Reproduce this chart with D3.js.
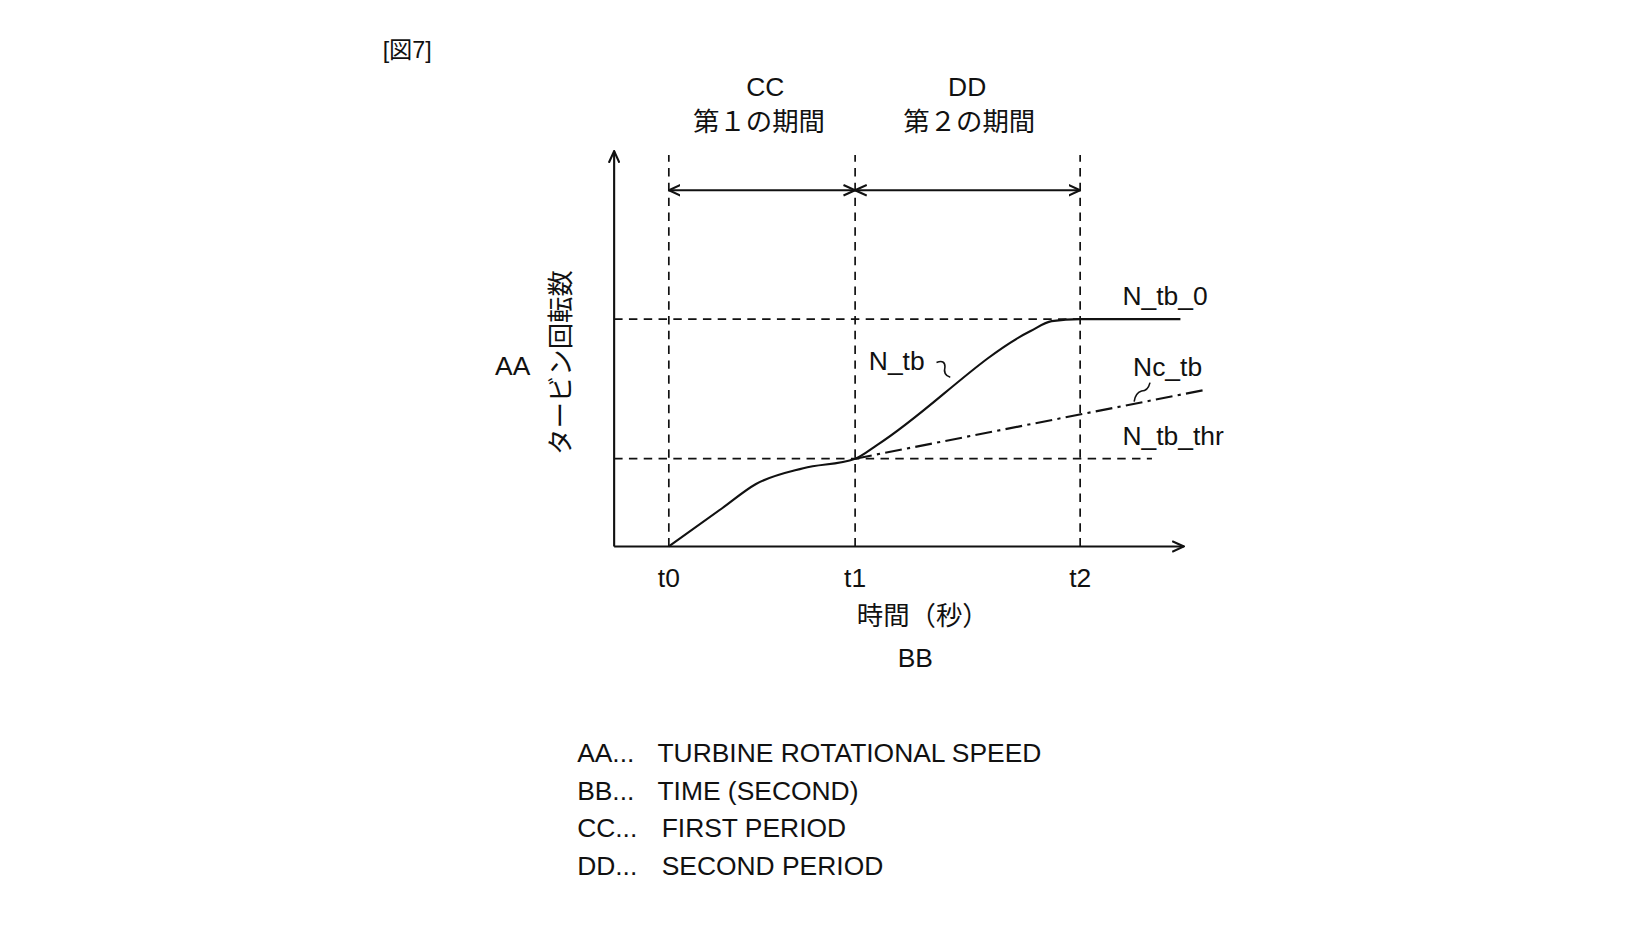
<!DOCTYPE html>
<html><head><meta charset="utf-8">
<script src="https://cdn.jsdelivr.net/npm/d3@7"></script>
<style>body{margin:0;background:#fff}text{font-family:"Liberation Sans","Noto Sans CJK JP",sans-serif;fill:#111}</style>
</head><body>
<script>
// time (0-100) vs turbine speed (0-100)
var periodTicks = [["t0", 9.6], ["t1", 42.3], ["t2", 81.8]];
var nTb0 = 57.5, nTbThr = 22.2;
var nTbTime = [9.6, 18.9, 24.9, 33.2, 42.3, 46.2, 73.1, 76.8, 81.8, 99.4];
var nTbSpeed = [0, 9.6, 15.8, 19.8, 22.2, 25.7, 54.5, 57, 57.5, 57.5];
var ncTbTime = [42.3, 103.7];
var ncTbSpeed = [22.2, 39.6];
var legend = [["AA...", "TURBINE ROTATIONAL SPEED"], ["BB...", "TIME (SECOND)"],
    ["CC...", "FIRST PERIOD"], ["DD...", "SECOND PERIOD"]];

var svg = d3.select("body").append("svg")
    .attr("width", 1650).attr("height", 928)
    .attr("viewBox", "0 0 1561 878");

var x = d3.scaleLinear().domain([0, 100]).range([581, 1120]),
    y = d3.scaleLinear().domain([0, 100]).range([517, 143]);

var defs = svg.append("defs");
defs.append("marker").attr("id", "arr").attr("viewBox", "0 0 12 12")
    .attr("refX", 11).attr("refY", 6).attr("markerWidth", 12).attr("markerHeight", 12)
    .attr("markerUnits", "userSpaceOnUse").attr("orient", "auto-start-reverse")
    .append("path").attr("d", "M0,1 L11,6 L0,11").attr("fill", "none")
    .attr("stroke", "#111").attr("stroke-width", 2);

var line = function(x1, y1, x2, y2, dash, w) {
    return svg.append("line").attr("x1", x1).attr("y1", y1).attr("x2", x2).attr("y2", y2)
	.attr("stroke", "#111").attr("stroke-width", w || 1.6)
	.attr("stroke-dasharray", dash || null);
};
var text = function(s, tx, ty, size, anchor) {
    return svg.append("text").attr("x", tx).attr("y", ty).attr("font-size", size || 25)
	.attr("text-anchor", anchor || "start").text(s);
};

// axes
line(x(0), y(0), x(0), y(100), null, 2).attr("marker-end", "url(#arr)");
line(x(0), y(0), x(100), y(0), null, 2).attr("marker-end", "url(#arr)");

// guides
periodTicks.forEach(function(d) {
    line(x(d[1]), y(0), x(d[1]), y(99), "8,6");
    text(d[0], x(d[1]), 555, 25, "middle");
});
line(x(0), y(nTb0), x(81.8), y(nTb0), "8,6");
line(x(0), y(nTbThr), x(94.4), y(nTbThr), "8,6");

// period arrows
line(x(9.6), 180, x(42.3), 180, null, 2).attr("marker-start", "url(#arr)").attr("marker-end", "url(#arr)");
line(x(42.3), 180, x(81.8), 180, null, 2).attr("marker-start", "url(#arr)").attr("marker-end", "url(#arr)");

// curves
var gen = d3.line().x(function(d) { return x(d[0]); }).y(function(d) { return y(d[1]); })
    .curve(d3.curveMonotoneX);
svg.append("path").datum(d3.zip(nTbTime, nTbSpeed)).attr("d", gen)
    .attr("fill", "none").attr("stroke", "#111").attr("stroke-width", 2);
svg.append("path").datum(d3.zip(ncTbTime, ncTbSpeed)).attr("d", d3.line()
    .x(function(d) { return x(d[0]); }).y(function(d) { return y(d[1]); }))
    .attr("fill", "none").attr("stroke", "#111").attr("stroke-width", 2)
    .attr("stroke-dasharray", "16,5,3,5");

// curve labels and leaders
text("N_tb_0", 1062, 289);
text("N_tb", 822, 350);
text("Nc_tb", 1072, 356);
text("N_tb_thr", 1062, 421);
svg.append("path").attr("d", "M886,343 q8,-3 8,4 q-2,8 5,10")
    .attr("fill", "none").attr("stroke", "#111").attr("stroke-width", 1.5);
svg.append("path").attr("d", "M1088,362 q-2,8 -8,8 q-6,2 -7,10")
    .attr("fill", "none").attr("stroke", "#111").attr("stroke-width", 1.5);

// titles
text("[図7]", 362, 55, 22);
text("CC", 724, 91, 25, "middle");
text("第１の期間", 718, 124, 25, "middle");
text("DD", 915, 91, 25, "middle");
text("第２の期間", 917, 124, 25, "middle");
text("AA", 485, 355, 25, "middle");
svg.append("text").attr("transform", "translate(539,343) rotate(-90)")
    .attr("font-size", 25).attr("text-anchor", "middle").text("タービン回転数");
text("時間（秒）", 873, 591, 25, "middle");
text("BB", 866, 631, 25, "middle");

// legend
legend.forEach(function(d, i) {
    text(d[0], 546, 721 + i * 35.5, 25);
    text(d[1], i < 2 ? 622 : 626, 721 + i * 35.5, 25);
});
</script>
</body></html>
